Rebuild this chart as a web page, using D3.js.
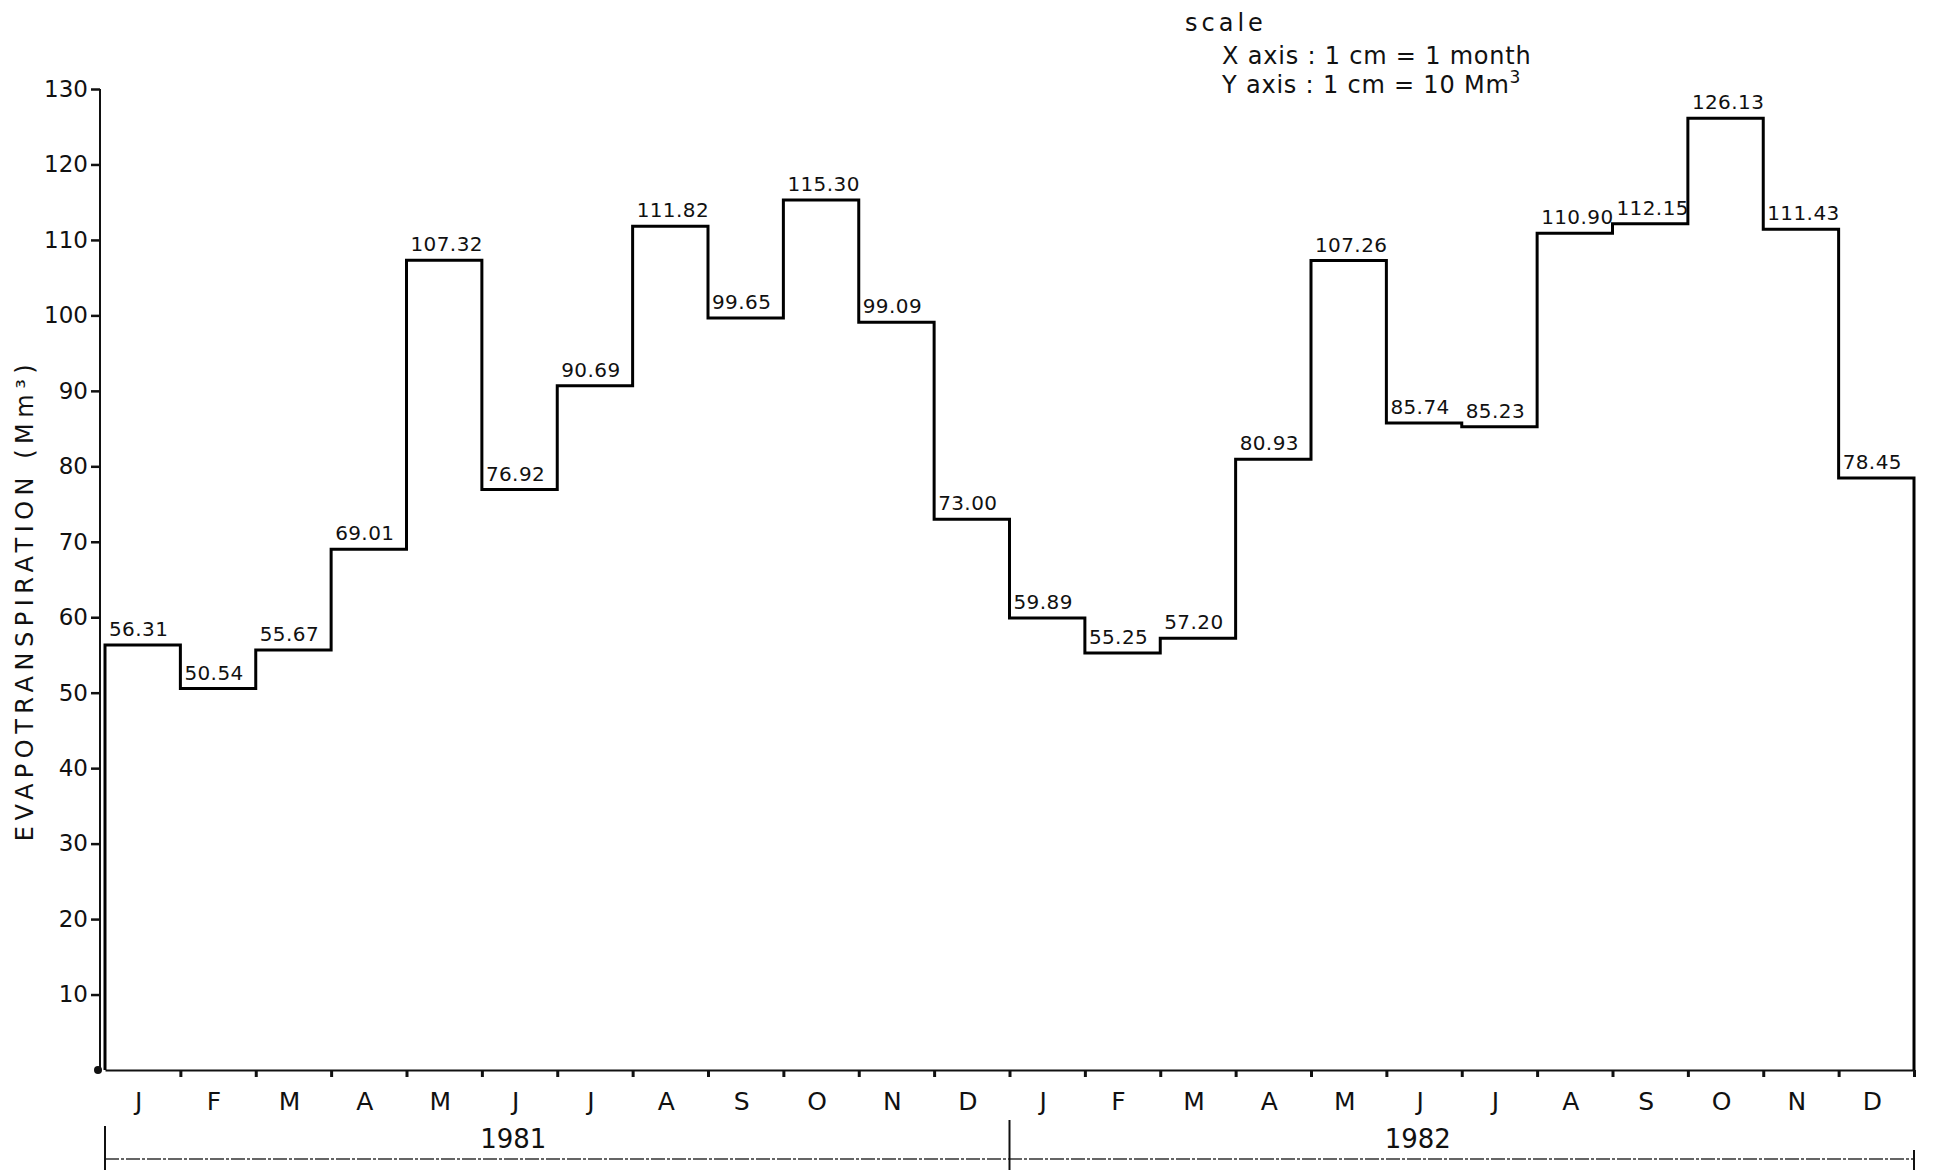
<!DOCTYPE html>
<html>
<head>
<meta charset="utf-8">
<script src="https://cdn.jsdelivr.net/npm/d3@7"></script>
<style>
  html, body { margin: 0; padding: 0; background: #fff; }
  svg { display: block; }
  text { font-family: "DejaVu Sans", sans-serif; fill: #111; }
</style>
</head>
<body>
<svg id="chart" width="1939" height="1170"></svg>
<script>
// ---- data ----
const months = ["J","F","M","A","M","J","J","A","S","O","N","D",
                "J","F","M","A","M","J","J","A","S","O","N","D"];
const years = ["1981", "1982"];
const evapo = [56.31, 50.54, 55.67, 69.01, 107.32, 76.92, 90.69, 111.82, 99.65, 115.30, 99.09, 73.00,
               59.89, 55.25, 57.20, 80.93, 107.26, 85.74, 85.23, 110.90, 112.15, 126.13, 111.43, 78.45];
const yTicks = [10, 20, 30, 40, 50, 60, 70, 80, 90, 100, 110, 120, 130];
const yTitle = "EVAPOTRANSPIRATION (Mm³)";
const scaleLines = ["scale", "X axis : 1 cm = 1 month", "Y axis : 1 cm = 10 Mm"];

// ---- layout ----
const svg = d3.select("#chart");
const x = d3.scaleLinear().domain([0, 24]).range([105, 1914]);
const y = d3.scaleLinear().domain([0, 130]).range([1070, 89]);
const axisX = 100;

// y axis
const yAxis = svg.append("g")
  .attr("transform", `translate(${axisX},0)`)
  .call(d3.axisLeft(y).tickValues(yTicks).tickSize(9).tickPadding(3).tickSizeOuter(0));
yAxis.select(".domain").attr("stroke", "#111").attr("stroke-width", 2)
  .attr("d", `M0,${y(0)}V${y(130)}`);
yAxis.selectAll(".tick line").attr("stroke", "#111").attr("stroke-width", 2.5);
yAxis.selectAll(".tick text").attr("font-size", 23).attr("font-family", "DejaVu Sans, sans-serif")
  .attr("fill", "#111");
svg.append("circle").attr("cx", axisX - 2).attr("cy", y(0)).attr("r", 4).attr("fill", "#111");

// y title
svg.append("text")
  .attr("transform", `translate(33, 600) rotate(-90)`)
  .attr("text-anchor", "middle")
  .attr("font-size", 24)
  .attr("letter-spacing", 5.5)
  .text(yTitle);

// x axis
const xAxis = svg.append("g")
  .attr("transform", `translate(0,${y(0)})`)
  .call(d3.axisBottom(x).tickValues(d3.range(1, 25)).tickSize(7).tickFormat("").tickSizeOuter(0));
xAxis.select(".domain").attr("stroke", "#111").attr("stroke-width", 2);
xAxis.selectAll(".tick line").attr("stroke", "#111").attr("stroke-width", 3);

// month labels
svg.append("g").selectAll("text").data(months).join("text")
  .attr("x", (d, i) => x(i + 0.5) - 4)
  .attr("y", 1110)
  .attr("text-anchor", "middle")
  .attr("font-size", 25)
  .text(d => d);

// year bracket
const yb = 1159;
svg.append("line").attr("x1", x(0)).attr("x2", x(24)).attr("y1", yb).attr("y2", yb)
  .attr("stroke", "#333").attr("stroke-width", 1.5).attr("stroke-dasharray", "14,2,3,2");
[[x(0), 1126], [x(12), 1120], [x(24), 1150]].forEach(([px, top]) => {
  svg.append("line").attr("x1", px).attr("x2", px).attr("y1", top).attr("y2", 1170)
    .attr("stroke", "#111").attr("stroke-width", 2);
});
svg.append("g").selectAll("text").data(years).join("text")
  .attr("x", (d, i) => (x(i * 12) + x(i * 12 + 12)) / 2 - 44)
  .attr("y", 1148)
  .attr("text-anchor", "middle")
  .attr("font-size", 26)
  .text(d => d);

// step line
const pts = [[x(0), y(0)]];
evapo.forEach((v, i) => { pts.push([x(i), y(v)]); pts.push([x(i + 1), y(v)]); });
pts.push([x(24), y(0)]);
svg.append("path")
  .attr("d", d3.line()(pts))
  .attr("fill", "none")
  .attr("stroke", "#000")
  .attr("stroke-width", 3)
  .attr("stroke-linejoin", "miter");

// value labels
const fmt = d3.format(".2f");
svg.append("g").selectAll("text").data(evapo).join("text")
  .attr("x", (d, i) => x(i) + 4)
  .attr("y", d => y(d) - 9)
  .attr("font-size", 20)
  .attr("letter-spacing", 0.4)
  .text(d => fmt(d));

// scale note
const note = svg.append("g");
note.append("text").attr("x", 1185).attr("y", 31).attr("font-size", 24).attr("letter-spacing", 4)
  .text(scaleLines[0]);
note.append("text").attr("x", 1222).attr("y", 64).attr("font-size", 24).attr("letter-spacing", 0.8)
  .text(scaleLines[1]);
const l3 = note.append("text").attr("x", 1222).attr("y", 93).attr("font-size", 24).attr("letter-spacing", 0.8);
l3.append("tspan").text(scaleLines[2]);
l3.append("tspan").attr("dy", -10).attr("font-size", 17).text("3");
</script>
</body>
</html>
